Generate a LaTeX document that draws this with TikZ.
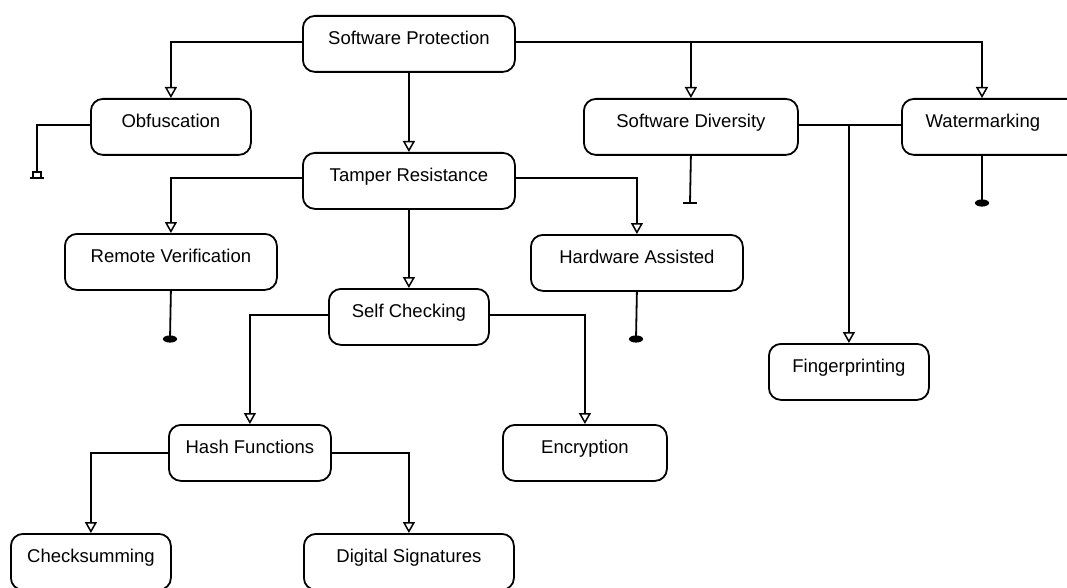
\documentclass[tikz,border=0pt]{standalone}
\usepackage{fontspec}
\setmainfont{Liberation Sans}
\usetikzlibrary{arrows.meta}
\begin{document}
\begin{tikzpicture}[x=1pt,y=-1pt,
  box/.style={draw, line width=1.8pt, rounded corners=12pt, inner xsep=0pt, inner ysep=16pt,
    text height=13pt, text depth=11pt, font=\fontsize{18.5}{20}\selectfont,
    anchor=north west, minimum height=56pt},
  conn/.style={line width=1.8pt},
  arr/.style={conn, -{Triangle[open,length=11pt,width=12pt,line width=1.5pt]}},
  endbar/.style={line width=1.8pt},
  endfill/.style={fill=black}
]
\useasboundingbox (0,0) rectangle (1067,588);
\clip (0,0) rectangle (1067,588);

% nodes
\node[box, minimum width=212pt] (sp) at (302,15) {Software Protection};
\node[box, minimum width=160pt] (ob) at (90,98) {Obfuscation};
\node[box, minimum width=212pt] (tr) at (302,152) {Tamper Resistance};
\node[box, minimum width=214pt] (sd) at (583,98) {Software Diversity};
\node[box, minimum width=180pt] (wm) at (901,98) {Watermarking\hspace*{18pt}};
\node[box, minimum width=212pt] (rv) at (64,233) {Remote Verification};
\node[box, minimum width=212pt] (ha) at (530,234) {Hardware Assisted};
\node[box, minimum width=160pt] (sc) at (328,288) {Self Checking};
\node[box, minimum width=160pt] (fp) at (768,343) {Fingerprinting};
\node[box, minimum width=162pt] (hf) at (168,424) {Hash Functions};
\node[box, minimum width=164pt] (en) at (502,424) {Encryption};
\node[box, minimum width=160pt] (cs) at (10,533) {Checksumming};
\node[box, minimum width=210pt] (ds) at (303,533) {Digital Signatures};

% connector end points
\coordinate (wmin) at ([xshift=81pt]wm.north west);
\coordinate (sdr) at ([yshift=-27pt]sd.north east);
\coordinate (fk) at (fp.north |- sdr);
\coordinate (tob) at (37,178);
\coordinate (tsd) at (690,203);
\coordinate (twm) at (982,203);
\coordinate (trv) at (170,339);
\coordinate (tha) at (636,339);

% connectors
\draw[arr] ([yshift=-27pt]sp.north west) -| (ob.north);
\draw[arr] (sp.south) -- (tr.north);
\draw[arr] ([yshift=-27pt]sp.north east) -| (sd.north);
\draw[arr] ([yshift=-27pt]sp.north east) -| (wmin);
\draw[conn] (sdr) -- ([yshift=-27pt]wm.north west);
\draw[arr] (fk) -- (fp.north);
\draw[conn] ([yshift=-27pt]ob.north west) -| ([yshift=6pt]tob);
\draw[conn] (sd.south) -- (tsd);
\draw[conn] (wmin |- wm.south) -- (twm);
\draw[arr] ([yshift=-26pt]tr.north west) -| (rv.north);
\draw[arr] ([yshift=-26pt]tr.north east) -| (ha.north);
\draw[arr] (tr.south) -- (sc.north);
\draw[conn] (rv.south) -- (trv);
\draw[conn] (ha.south) -- (tha);
\draw[arr] ([yshift=-27pt]sc.north west) -| (hf.north);
\draw[arr] ([yshift=-27pt]sc.north east) -| (en.north);
\draw[arr] ([yshift=-29pt]hf.north west) -| (cs.north);
\draw[arr] ([yshift=-29pt]hf.north east) -| (ds.north);

% terminators
\draw[line width=1.4pt] ([xshift=-4pt]tob) rectangle ([xshift=4pt,yshift=6pt]tob);
\draw[endbar] ([xshift=-7pt]tob) -- ([xshift=7pt]tob);
\draw[endbar] ([xshift=-7pt]tsd) -- ([xshift=7pt]tsd);
\fill[endfill] (twm) ellipse (7pt and 3.6pt);
\draw[endbar] ([xshift=-7pt]twm) -- ([xshift=7pt]twm);
\fill[endfill] (trv) ellipse (7pt and 3.6pt);
\draw[endbar] ([xshift=-7pt]trv) -- ([xshift=7pt]trv);
\fill[endfill] (tha) ellipse (7pt and 3.6pt);
\draw[endbar] ([xshift=-7pt]tha) -- ([xshift=7pt]tha);
\end{tikzpicture}
\end{document}
